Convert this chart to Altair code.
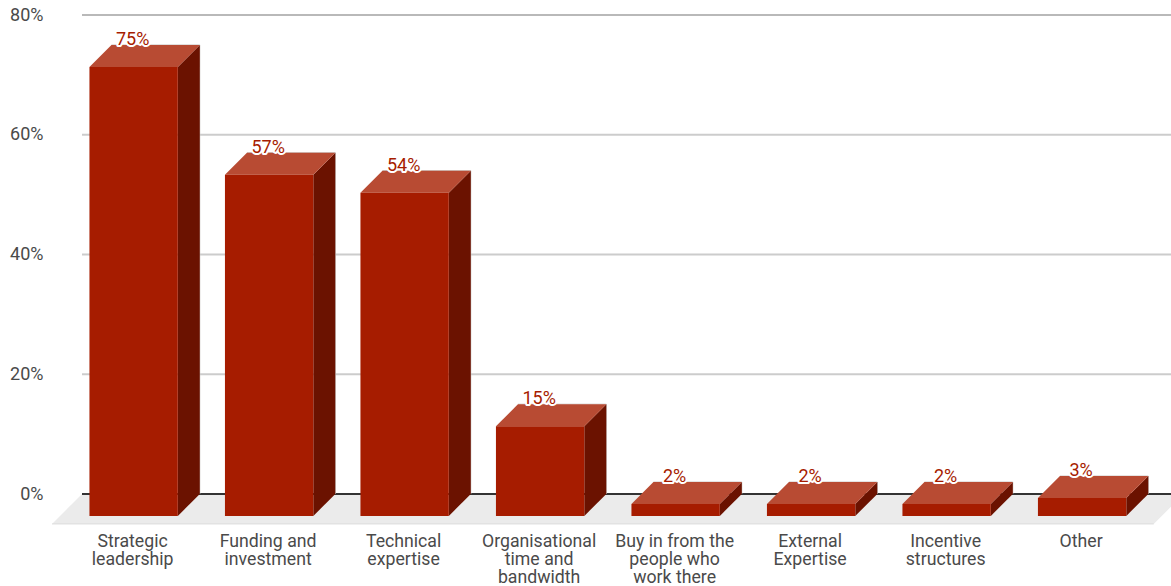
import json

import altair as alt
import pandas as pd

# Survey responses
CATEGORY_LINES = [
    ["Strategic", "leadership"],
    ["Funding and", "investment"],
    ["Technical", "expertise"],
    ["Organisational", "time and", "bandwidth"],
    ["Buy in from the", "people who", "work there"],
    ["External", "Expertise"],
    ["Incentive", "structures"],
    ["Other"],
]
VALUES = [75, 57, 54, 15, 2, 2, 2, 3]
GRID_VALUES = [20, 40, 60, 80]
TICK_VALUES = [0, 20, 40, 60, 80]

FRONT = "#a61c00"
TOP = "#b84b33"
SIDE = "#6b1200"
EDGE = "#c9c6c4"
FLOOR = "#ebebeb"
TEXT = "#4a4a4a"
FONT = "Roboto"

# Pseudo-3D geometry, in axis units: x counts category slots, y counts percent
HALF = 0.326
DEPTH_X = 0.1624
DEPTH_Y = 3.67
FLOOR_X0, FLOOR_X1 = -0.381, 7.75
FLOOR_DX, FLOOR_DY = 0.2214, 5.0

x_scale = alt.Scale(domain=[-0.381, 7.656], nice=False, zero=False)
y_scale = alt.Scale(domain=[0, 80], nice=False, zero=False)

bars = pd.DataFrame({"slot": range(len(VALUES)), "value": VALUES})
bars["label"] = bars["value"].astype(str) + "%"
bars["x0"] = bars["slot"] - HALF
bars["x1"] = bars["slot"] + HALF
bars["back"] = bars["x1"] + DEPTH_X
bars["front_top"] = bars["value"] - DEPTH_Y
bars["base"] = -DEPTH_Y
bars["zero"] = 0.0
bars["back_left"] = bars["x0"] + DEPTH_X

# Side and top faces are long-form parallelograms, one pair of rows per bar
side = pd.concat([
    pd.DataFrame({"slot": bars["slot"], "x": bars["x1"], "y": bars["front_top"], "y2": bars["base"]}),
    pd.DataFrame({"slot": bars["slot"], "x": bars["back"], "y": bars["value"], "y2": bars["zero"]}),
])
top = pd.concat([
    pd.DataFrame({"slot": bars["slot"], "y": bars["front_top"], "x": bars["x0"], "x2": bars["x1"]}),
    pd.DataFrame({"slot": bars["slot"], "y": bars["value"], "x": bars["back_left"], "x2": bars["back"]}),
])
floor = pd.DataFrame({
    "y": [0.0, -FLOOR_DY],
    "x": [FLOOR_X0, FLOOR_X0 - FLOOR_DX],
    "x2": [FLOOR_X1, FLOOR_X1 - FLOOR_DX],
})
grid = pd.DataFrame({"value": GRID_VALUES})
grid["color"] = ["#cccccc" if v != 80 else "#b9b9b9" for v in GRID_VALUES]

axis_x = alt.Axis(
    values=list(range(len(VALUES))),
    labelExpr=json.dumps(CATEGORY_LINES) + "[datum.value]",
    title=None, domain=False, ticks=False, grid=False,
    labelFont=FONT, labelFontSize=17.7, labelColor=TEXT, labelLineHeight=18,
    labelPadding=38, labelOverlap=False, labelBound=False, labelFlush=False,
    labelAngle=0, labelBaseline="top", labelAlign="center", labelOffset=-1.5,
)
axis_y = alt.Axis(
    values=TICK_VALUES,
    labelExpr="datum.value + '%'",
    title=None, domain=False, ticks=False, grid=False,
    labelFont=FONT, labelFontSize=18, labelColor=TEXT,
    labelPadding=39, labelOverlap=False, labelBound=False, labelFlush=False,
)

# Every layer shares one axis definition so that Vega-Lite merges them
X = lambda f: alt.X(f"{f}:Q", scale=x_scale, axis=axis_x, title=None)
Y = lambda f: alt.Y(f"{f}:Q", scale=y_scale, axis=axis_y, title=None, stack=None)

grid_layer = alt.Chart(grid).mark_rule(strokeWidth=2).encode(
    y=Y("value"),
    color=alt.Color("color:N", scale=None),
)
floor_layer = alt.Chart(floor).mark_area(orient="horizontal", color=FLOOR).encode(
    y=Y("y"), x=X("x"), x2="x2:Q",
)
floor_edge = alt.Chart(floor.tail(1)).mark_rule(color="#dcdcdc", strokeWidth=1).encode(
    y=Y("y"), x=X("x"), x2="x2:Q",
)
zero_line = alt.Chart(pd.DataFrame({"value": [0]})).mark_rule(color="#333333", strokeWidth=2).encode(
    y=Y("value"),
)

back_edge_v = alt.Chart(bars).mark_rule(color=EDGE, strokeWidth=1).encode(
    x=X("back"), y=Y("value"), y2="zero:Q",
)
back_edge_h = alt.Chart(bars).mark_rule(color=EDGE, strokeWidth=1).encode(
    y=Y("value"), x=X("back_left"), x2="back:Q",
)
side_layer = alt.Chart(side).mark_area(color=SIDE).encode(
    x=X("x"), y=Y("y"), y2="y2:Q", detail="slot:N",
)
top_layer = alt.Chart(top).mark_area(orient="horizontal", color=TOP).encode(
    y=Y("y"), x=X("x"), x2="x2:Q", detail="slot:N",
)
front_layer = alt.Chart(bars).mark_rect(color=FRONT).encode(
    x=X("x0"), x2="x1:Q", y=Y("front_top"), y2="base:Q",
)

text_args = dict(font=FONT, fontSize=18, baseline="middle", align="center", dx=-1, dy=-5)
halo = alt.Chart(bars).mark_text(
    color="white", stroke="white", strokeWidth=4, strokeJoin="round", **text_args
).encode(x=X("slot"), y=Y("value"), text="label:N")
label = alt.Chart(bars).mark_text(color=FRONT, **text_args).encode(
    x=X("slot"), y=Y("value"), text="label:N"
)

chart = alt.layer(
    grid_layer, floor_layer, floor_edge, zero_line,
    back_edge_v, back_edge_h, side_layer, top_layer, front_layer, halo, label,
).properties(
    width=1089,
    height=479,
    padding={"left": 82, "top": 15, "right": 0, "bottom": 92},
    autosize=alt.AutoSizeParams(type="none"),
    background="white",
).configure_view(stroke=None)

chart.save("out.html", embed_options={"renderer": "svg", "actions": False})
